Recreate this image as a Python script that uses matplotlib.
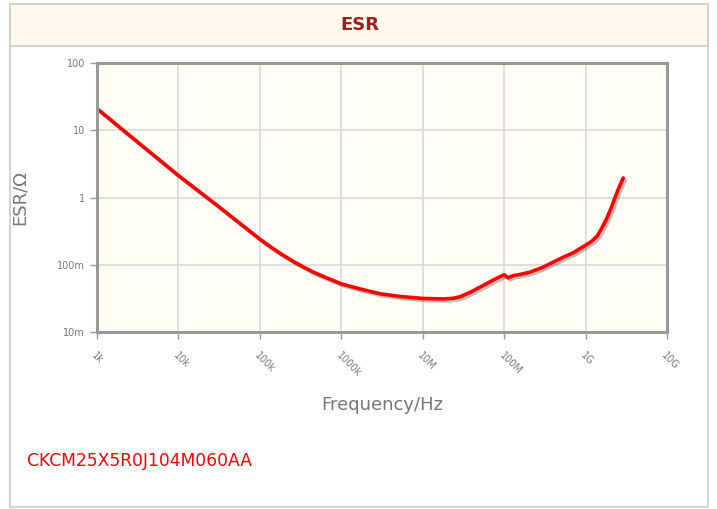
import matplotlib
matplotlib.use("Agg")
import matplotlib.pyplot as plt
import matplotlib.patheffects as pe
from matplotlib.patches import Rectangle

# ESR curve (Hz, ohm)
freq = [1e3, 3e3, 1e4, 3e4, 1e5, 1.4e5, 1.9e5, 2.6e5, 3.4e5, 4.5e5, 6e5, 8e5,
        1e6, 1.7e6, 3e6, 5e6, 1e7, 1.8e7, 2.4e7, 2.9e7, 3.4e7, 4e7, 5.1e7,
        7.3e7, 1e8, 1.12e8, 1.3e8, 1.6e8, 2.1e8, 3e8, 5e8, 7e8, 1e9, 1.2e9,
        1.4e9, 1.6e9, 1.84e9, 2.1e9, 2.3e9, 2.6e9, 2.9e9]
esr = [21, 7.0, 2.12, 0.76, 0.24, 0.179, 0.14, 0.111, 0.093, 0.078, 0.067,
       0.058, 0.052, 0.0436, 0.037, 0.034, 0.0315, 0.031, 0.0318, 0.0335,
       0.0365, 0.040, 0.0467, 0.059, 0.071, 0.064, 0.069, 0.072, 0.078, 0.092,
       0.125, 0.15, 0.195, 0.225, 0.27, 0.36, 0.5, 0.74, 1.0, 1.45, 1.95]

xticks = [1e3, 1e4, 1e5, 1e6, 1e7, 1e8, 1e9, 1e10]
xlabels = ["1k", "10k", "100k", "1000k", "10M", "100M", "1G", "10G"]
yticks = [1e-2, 1e-1, 1, 10, 100]
ylabels = ["10m", "100m", "1", "10", "100"]

part_no = "CKCM25X5R0J104M060AA"

W, H = 717, 509
fig = plt.figure(figsize=(W / 100, H / 100), dpi=100)
fig.patch.set_facecolor("white")

def fx(px):
    return px / W

def fy(py):
    return 1 - py / H

# outer panel and header band
fig.patches.append(Rectangle((fx(10), fy(507)), fx(698), (503) / H, transform=fig.transFigure,
                             facecolor="white", edgecolor="#cccccc", lw=1.2, zorder=-10))
fig.patches.append(Rectangle((fx(10), fy(46)), fx(698), 42 / H, transform=fig.transFigure,
                             facecolor="#fef9ec", edgecolor="#cccccc", lw=1.2, zorder=-9))
fig.text(fx(360), fy(25), "ESR", ha="center", va="center", fontsize=13,
         fontweight="bold", color="#9b2020")

ax = fig.add_axes([fx(97), fy(332), fx(570), 269 / H])
ax.set_facecolor("#fffdf5")
ax.set_xscale("log")
ax.set_yscale("log")
ax.set_xlim(1e3, 1e10)
ax.set_ylim(1e-2, 1e2)

ax.plot(freq, esr, color="red", lw=2.6, solid_capstyle="round", solid_joinstyle="round",
        path_effects=[pe.SimpleLineShadow(offset=(1.5, -1.5), alpha=0.25), pe.Normal()])

ax.set_xticks(xticks)
ax.set_xticklabels(xlabels, rotation=-45, ha="left", va="top", rotation_mode="anchor")
ax.set_yticks(yticks)
ax.set_yticklabels(ylabels)
ax.minorticks_off()
ax.grid(True, color="#d6d6d6", lw=1.1)
ax.set_axisbelow(True)
ax.tick_params(axis="both", direction="out", length=5, width=1, color="#999999",
               labelsize=7, labelcolor="#777777")
ax.tick_params(axis="x", pad=8)
for s in ax.spines.values():
    s.set_color("#999999")
    s.set_linewidth(2.2)

ax.set_xlabel("Frequency/Hz", fontsize=13, color="#777777", labelpad=13)
fig.text(fx(20), fy(198), "ESR/\u03a9", rotation=90, ha="center", va="center",
         fontsize=13, color="#777777")

fig.text(fx(27), fy(461), part_no, ha="left", va="center", fontsize=12.3, color="red")

fig.savefig("out.png", dpi=100)
